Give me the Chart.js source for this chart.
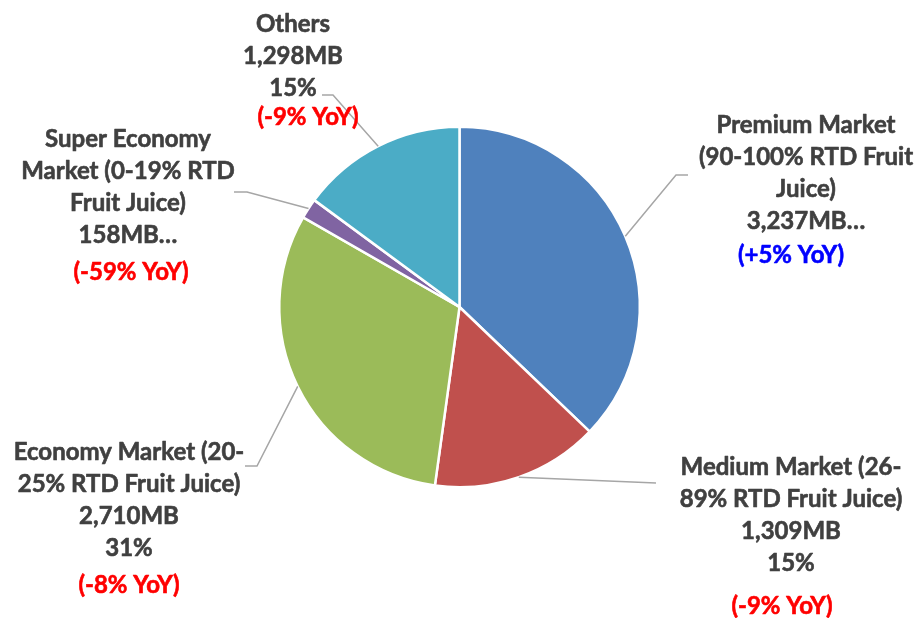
<!DOCTYPE html>
<html>
<head>
<meta charset="utf-8">
<script src="https://cdn.jsdelivr.net/npm/chart.js@4.4.1/dist/chart.umd.min.js"></script>
<style>
    html, body { margin: 0; padding: 0; background: #fff; }
    #wrap { width: 914px; height: 618px; position: relative; }
</style>
</head>
<body>
<div id="wrap"><canvas id="pieChart"></canvas></div>
<script>
// Chart data
const categories = [
    'Premium Market (90-100% RTD Fruit Juice)',
    'Medium Market (26-89% RTD Fruit Juice)',
    'Economy Market (20-25% RTD Fruit Juice)',
    'Super Economy Market (0-19% RTD Fruit Juice)',
    'Others'
];
const salesMB = [3237, 1309, 2710, 158, 1298];
const yoyChange = [5, -9, -8, -59, -9];
const sliceColors = ['#4F81BD', '#C0504D', '#9BBB59', '#8064A2', '#4BACC6'];

// name wrapping as it appears in the picture; some labels got cut off after the value
const nameLines = [
    ['Premium Market', '(90-100% RTD Fruit', 'Juice)'],
    ['Medium Market (26-', '89% RTD Fruit Juice)'],
    ['Economy Market (20-', '25% RTD Fruit Juice)'],
    ['Super Economy', 'Market (0-19% RTD', 'Fruit Juice)'],
    ['Others']
];
const truncated = [true, false, false, true, false];

// label boxes: text centre, baselines, yoy line, leader elbow/end
const labelLayout = [
    { x: 806, y: 133, yoyX: 791, yoyY: 263, elbow: [676, 175], end: [688, 175] },
    { x: 791, y: 475, yoyX: 782, yoyY: 614, elbow: [656, 483], end: [656, 483] },
    { x: 129, y: 460, yoyX: 129, yoyY: 593, elbow: [257, 466], end: [245, 466] },
    { x: 128, y: 147, yoyX: 131, yoyY: 280, elbow: [247, 192], end: [234, 192] },
    { x: 293, y: 32, yoyX: 308, yoyY: 125, elbow: [333, 95], end: [322, 95] }
];
const LINE_H = 32;
const FONT = 'bold 24px Lato, "Open Sans", sans-serif';

const total = salesMB.reduce((a, b) => a + b, 0);

function labelText(i) {
    const value = salesMB[i].toLocaleString('en-US') + 'MB';
    if (truncated[i]) return nameLines[i].concat([value + '\u2026']);
    const pct = Math.round(salesMB[i] / total * 100) + '%';
    return nameLines[i].concat([value, pct]);
}

function yoyText(i) {
    const v = yoyChange[i];
    return '(' + (v > 0 ? '+' : '') + v + '% YoY)';
}

// draws text a touch heavier, closer to the original's bold face
function heavyText(ctx, text, x, y, color) {
    ctx.fillStyle = color;
    ctx.strokeStyle = color;
    ctx.lineWidth = 0.6;
    ctx.fillText(text, x, y);
    ctx.strokeText(text, x, y);
}

const calloutPlugin = {
    id: 'callouts',
    afterDatasetsDraw(chart) {
        const ctx = chart.ctx;
        const arcs = chart.getDatasetMeta(0).data;
        ctx.save();

        // leader lines
        ctx.strokeStyle = '#A6A6A6';
        ctx.lineWidth = 1.5;
        arcs.forEach((arc, i) => {
            const p = arc.getProps(['x', 'y', 'startAngle', 'endAngle', 'outerRadius'], true);
            const mid = (p.startAngle + p.endAngle) / 2;
            const lay = labelLayout[i];
            ctx.beginPath();
            ctx.moveTo(p.x + Math.cos(mid) * p.outerRadius, p.y + Math.sin(mid) * p.outerRadius);
            ctx.lineTo(lay.elbow[0], lay.elbow[1]);
            ctx.lineTo(lay.end[0], lay.end[1]);
            ctx.stroke();
        });

        // label text
        ctx.font = FONT;
        ctx.textAlign = 'center';
        ctx.textBaseline = 'alphabetic';
        ctx.lineJoin = 'round';
        arcs.forEach((arc, i) => {
            const lay = labelLayout[i];
            labelText(i).forEach((line, k) => {
                heavyText(ctx, line, lay.x, lay.y + k * LINE_H, '#404040');
            });
            heavyText(ctx, yoyText(i), lay.yoyX, lay.yoyY, yoyChange[i] > 0 ? '#0000FF' : '#FF0000');
        });
        ctx.restore();
    }
};

new Chart(document.getElementById('pieChart'), {
    type: 'pie',
    data: {
        labels: categories,
        datasets: [{
            data: salesMB,
            backgroundColor: sliceColors,
            borderColor: '#FFFFFF',
            borderWidth: 2.5
        }]
    },
    options: {
        responsive: true,
        maintainAspectRatio: false,
        animation: false,
        layout: {
            padding: { left: 278, right: 273, top: 125, bottom: 129 }
        },
        plugins: {
            legend: { display: false },
            tooltip: { enabled: false }
        }
    },
    plugins: [calloutPlugin]
});
</script>
</body>
</html>
